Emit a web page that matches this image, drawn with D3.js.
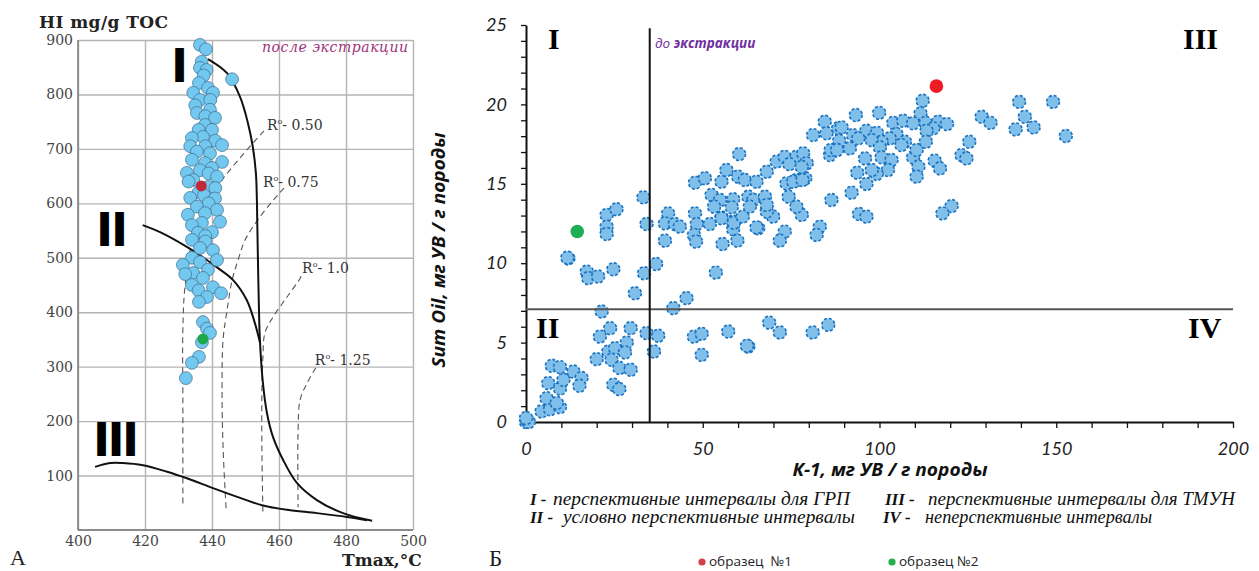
<!DOCTYPE html>
<html lang="ru">
<head>
<meta charset="UTF-8">
<title>HI – Tmax и Sum Oil – K-1</title>
<style>
  body { margin: 0; background: #fff; }
  svg { display: block; }
</style>
<script src="https://cdn.jsdelivr.net/npm/d3@7"></script>
</head>
<body>
<div id="chart"></div>
<script>
// ---------- panel A: HI vs Tmax ----------
const tmaxTicks = [400, 420, 440, 460, 480, 500];
const hiTicks = [100, 200, 300, 400, 500, 600, 700, 800, 900];

// [Tmax, HI]
const hiPoints = [
  [436.4,891],[438.2,883],[436.9,860],[436.4,849],[438.4,845],[437.5,835],[446,828],[436.1,821],
  [438.8,812],[434.4,803],[440.3,803],[436.4,790],[439.5,790],[435,780],[439.4,772],[435.5,766],
  [438,760],[440.9,757],[437.9,744],[436,735],[440,735],[437.3,722],[434,720],[441,715],
  [443,707],[433.5,705],[438,705],[435.5,695],[439.4,692],[434,680],[443,676],[437.9,674],
  [440,665],[436.4,661],[432.5,656],[439,655],[441.5,649],[434.4,643],[433,640],[438.8,630],
  [441,628],[436,620],[437.6,615],[433.5,610],[440.9,609],[439,600],[435.5,594],[441.5,588],
  [437.9,582],[432.8,579],[442.4,566],[437,564],[434,560],[440,547],[435.8,546],[438,540],
  [434,533],[438,530],[436.4,518],[440.3,514],[434,500],[441.5,496],[436.4,492],[431.3,487],
  [438.8,478],[434.4,472],[432,470],[437.3,463],[434,450],[440.3,446],[436,440],[442.7,435],
  [438.5,428],[436.1,419],[437.3,382],[438.5,370],[439.4,362],[437,345],[436.1,318],[434,307],
  [432.2,279]
];
const sample1Hi = [436.8, 632];
const sample2Hi = [437.3, 351];

// maturity boundaries (solid) and Ro isolines (dashed), [Tmax, HI]
const curveI = [
  [438.8,865],[444.5,839],[448.4,795],[450.7,748],[452.2,703],[453.1,656],[453.4,606],[453.5,569],
  [453.7,501],[454.0,410],[454.3,349],[455.2,270],[456.4,215],[458.2,171],[461.2,129],[465.4,86],
  [471.3,55],[479.1,31],[487.8,17]
];
const curveII = [
  [419.3,560],[424.5,547],[432.5,520],[437.5,500],[441.8,481],[446.3,459],[450.4,422],[452.8,380],[454.3,345]
];
const curveIII = [
  [405.1,116],[409.6,123],[413.4,123],[419.4,119],[426.6,107],[432.5,95],[440.3,77],[448.4,59],
  [455.2,45],[462.4,37],[471.3,31],[480.3,24],[486.3,18]
];
const iso050 = [[455.5,733],[441.5,630],[435,551],[432,450],[431.3,367],[431.3,239],[431.3,42]];
const iso075 = [[461.5,628],[460.3,620],[454.3,575],[449.9,533],[447.8,496],[446,459],[444.5,404],[443.3,349],[443,257],[443.3,152],[444.2,40]];
const iso100 = [[466.6,466],[466.3,462],[462.4,428],[458.2,391],[455.8,362],[455.2,318],[454.9,257],[454.9,147],[455.2,31]];
const iso125 = [[471,298],[468.4,270],[466.3,239],[465.7,184],[465.7,42]];
const isoNames = ["0.50", "0.75", "1.0", "1.25"];
const isoLabelAt = [[456.4,735], [455.2,630], [466.9,472], [470.7,303]];

// ---------- panel Б: Sum Oil vs K-1 ----------
const k1Labels = [0, 50, 100, 150, 200];
const oilLabels = [0, 5, 10, 15, 20, 25];
const k1Cut = 35;
const oilCut = 7.1;

// [K-1, Sum Oil]
const oilPoints = [
  [0,0],[0.4,0.1],[0.8,0],[0,0.25],
  [4.4,0.67],[6.8,0.8],[9.6,0.94],[5.8,1.5],[8.7,1.2],[6.3,2.45],[9.6,2.1],[10.6,2.66],[7.3,3.54],
  [9.6,3.46],[13.4,3.18],[15.7,2.77],[15.1,2.28],
  [12.0,10.3],[11.7,10.35],[17.2,9.47],[17.6,9.06],[20.4,9.16],[24.7,9.62],
  [22.8,13.04],[22.8,12.3],[22.8,11.84],[25.6,13.4],
  [21.4,6.96],[23.8,5.91],[20.9,5.38],[20.0,3.96],[23.3,4.44],[25.2,4.65],[24.2,3.92],[28.5,5.0],
  [28.0,4.38],[26.4,3.4],[29.6,3.29],[24.7,2.35],[26.4,2.07],[29.6,5.91],[30.8,8.11],[33.4,9.37],
  [34.1,12.47],[36.8,9.95],[34.1,5.6],[37.4,5.43],[36.2,4.44],
  [40.2,13.14],[39.3,12.51],[42.1,12.47],[43.5,12.3],[39.3,11.42],[41.7,7.17],[45.4,7.8],[47.5,5.38],
  [49.7,5.55],[49.7,4.23],
  [47.8,13.14],[48.3,12.47],[47.5,11.78],[48.1,11.36],[52.0,12.47],[55.3,12.89],[55.6,11.21],[53.7,9.41],
  [58.6,12.62],[58.6,12.14],[59.8,11.42],[57.2,5.7],[62.9,4.75],[62.5,4.8],[65.7,12.2],[68.8,6.26],
  [71.8,5.64],[73.2,11.99],[71.8,11.42],[69.9,12.93],[68.1,13.25],[81.1,5.64],[85.5,6.12],[83.1,12.3],
  [82.2,11.78],[78.0,13.04],
  [33.2,14.15],[47.8,15.07],[50.6,15.35],[52.5,14.3],[54.9,13.98],[55.3,15.13],[56.7,15.87],[58.6,14.03],
  [60.3,16.87],[60.0,15.45],[61.9,15.24],[62.9,14.19],[65.2,15.13],[64.3,13.98],[68.1,15.76],[67.6,14.19],
  [68.1,13.67],[70.9,16.4],[73.2,16.7],[73.7,15.03],[74.3,14.19],[76.5,16.7],[76.5,15.24],[78.4,16.92],
  [79.4,16.29],[79.0,15.35],[81.2,18.07],[84.5,18.91],[85.0,18.18],[86.0,16.81],[88.3,18.49],[86.4,13.98],
  [53.2,13.56],[55.3,12.83],[58.2,13.52],[58.8,12.55],[61.3,12.93],[63.3,13.56],[65.2,12.26],[74.5,16.24],
  [75.6,15.13],[76.5,13.56],[78.2,15.24],[78.0,16.06],
  [112.2,20.23],[111.6,19.43],[128.9,19.22],[131.4,18.84],[99.9,19.47],[93.3,19.33],[89.3,18.55],[92.5,18.07],
  [96.3,18.34],[99.3,18.21],[103.9,18.84],[106.7,18.97],[109.5,18.81],[113.1,18.84],[116.6,18.91],[119.1,18.76],
  [115.2,18.49],[113.3,18.34],[104.8,18.13],[107.2,17.65],[106.2,17.44],[102.9,17.86],[100.6,17.65],[97.8,17.75],
  [94.0,17.86],[91.6,17.23],[88.6,17.71],[86.2,17.13],[88.0,17.13],[95.9,16.6],[100.1,17.29],[100.6,16.67],
  [103.4,16.5],[102.4,15.87],[99.2,15.62],[97.8,15.87],[93.7,15.7],[96.3,14.99],[92.1,14.44],[109.5,16.67],
  [110.5,17.13],[111.0,16.08],[110.5,15.45],[113.1,17.65],[115.6,16.46],[117.1,15.97],[125.4,17.65],[123.2,16.81],
  [124.6,16.6],[120.4,13.6],[117.8,13.14],[94.2,13.1],[96.3,12.93],
  [139.5,20.16],[149.1,20.16],[141.1,19.22],[143.6,18.55],[138.5,18.43],[152.7,18.01]
];
const sample1Oil = [116.1, 21.15];
const sample2Oil = [14.5, 12.0];

const legendRows = [
  ["I -", "перспективные интервалы для ГРП", "III -", "перспективные интервалы для ТМУН"],
  ["II -", "условно перспективные интервалы", "IV -", "неперспективные интервалы"]
];
const sampleNames = ["образец  №1", "образец №2"];

// ------------------------------------------------
const svg = d3.select("#chart").append("svg")
  .attr("width", 1259).attr("height", 571)
  .style("background", "#fff");

const serif = "DejaVu Serif";

// ===== panel A =====
const xL = d3.scaleLinear().domain([400, 500]).range([78, 413]);
const yL = d3.scaleLinear().domain([0, 900]).range([530, 40]);
const gA = svg.append("g");

gA.append("g").attr("transform", "translate(78,0)")
  .call(d3.axisLeft(yL).tickValues(hiTicks).tickSize(-335).tickPadding(5))
  .call(g => g.select(".domain").remove())
  .call(g => g.selectAll("line").attr("stroke", "#b4b4b4").attr("stroke-width", 1.4))
  .call(g => g.selectAll("text").attr("font-family", serif).attr("font-size", 14).attr("fill", "#444"));

gA.append("g").attr("transform", "translate(0,530)")
  .call(d3.axisBottom(xL).tickValues(tmaxTicks).tickSize(-490).tickPadding(6))
  .call(g => g.select(".domain").remove())
  .call(g => g.selectAll("line").attr("stroke", "#b4b4b4").attr("stroke-width", 1.4))
  .call(g => g.selectAll("text").attr("font-family", serif).attr("font-size", 14).attr("fill", "#444"));

gA.append("line").attr("x1", xL(400)).attr("x2", xL(400)).attr("y1", yL(900)).attr("y2", yL(0))
  .attr("stroke", "#777").attr("stroke-width", 1.4);
gA.append("line").attr("x1", xL(400)).attr("x2", xL(500)).attr("y1", yL(0)).attr("y2", yL(0))
  .attr("stroke", "#666").attr("stroke-width", 1.6);

const lineL = d3.line().x(d => xL(d[0])).y(d => yL(d[1])).curve(d3.curveCatmullRom.alpha(0.5));

[iso050, iso075, iso100, iso125].forEach(iso => {
  gA.append("path").attr("d", lineL(iso)).attr("fill", "none")
    .attr("stroke", "#555").attr("stroke-width", 1.1).attr("stroke-dasharray", "6,4");
});
[curveI, curveII, curveIII].forEach(c => {
  gA.append("path").attr("d", lineL(c)).attr("fill", "none")
    .attr("stroke", "#111").attr("stroke-width", 2);
});

gA.selectAll("circle.hi").data(hiPoints).join("circle").attr("class", "hi")
  .attr("cx", d => xL(d[0])).attr("cy", d => yL(d[1])).attr("r", 6.4)
  .attr("fill", "#72c8ef").attr("stroke", "#3d6c8c").attr("stroke-width", 0.7);
gA.append("circle").attr("cx", xL(sample1Hi[0])).attr("cy", yL(sample1Hi[1])).attr("r", 5.5).attr("fill", "#c0283c");
gA.append("circle").attr("cx", xL(sample2Hi[0])).attr("cy", yL(sample2Hi[1])).attr("r", 5.5).attr("fill", "#1fa84a");

isoNames.forEach((n, i) => {
  const t = gA.append("text").attr("x", xL(isoLabelAt[i][0])).attr("y", yL(isoLabelAt[i][1]))
    .attr("font-family", serif).attr("font-size", 14).attr("fill", "#333");
  t.append("tspan").text("R");
  t.append("tspan").attr("font-size", 8).attr("dy", -6).text("o");
  t.append("tspan").attr("dy", 6).text("- " + n);
});

// roman group labels
const romanA = [["I", 171, 82, -2], ["II", 96, 246, -2], ["III", 93, 456, -2.6]];
romanA.forEach(r => {
  gA.append("text").attr("x", r[1]).attr("y", r[2]).text(r[0])
    .attr("font-family", "DejaVu Sans").attr("font-weight", "bold").attr("font-size", 46)
    .attr("letter-spacing", r[3]).attr("fill", "#000");
});

gA.append("text").attr("x", 262).attr("y", 52).text("после экстракции")
  .attr("font-family", serif).attr("font-style", "italic").attr("font-size", 14)
  .attr("textLength", 146).attr("fill", "#a1317c");
gA.append("text").attr("x", 39).attr("y", 28).text("HI mg/g TOC")
  .attr("font-family", serif).attr("font-weight", "bold").attr("font-size", 17)
  .attr("textLength", 129).attr("fill", "#222");
gA.append("text").attr("x", 342).attr("y", 566).text("Tmax,°C")
  .attr("font-family", serif).attr("font-weight", "bold").attr("font-size", 17).attr("fill", "#222");
gA.append("text").attr("x", 10).attr("y", 565).text("А")
  .attr("font-family", "Liberation Serif").attr("font-size", 22).attr("fill", "#222");

// ===== panel Б =====
const xR = d3.scaleLinear().domain([0, 200]).range([526, 1233]);
const yR = d3.scaleLinear().domain([0, 25]).range([422, 25]);
const gB = svg.append("g");
const tickFont = "Lato";

gB.append("g").attr("transform", "translate(0,422)")
  .call(d3.axisBottom(xR).tickValues(d3.range(0, 201, 10)).tickSize(6).tickSizeOuter(0).tickPadding(14)
    .tickFormat(d => k1Labels.includes(d) ? d : ""))
  .call(g => g.select(".domain").attr("stroke", "#111").attr("stroke-width", 2))
  .call(g => g.selectAll("line").attr("stroke", "#111").attr("stroke-width", 1.3))
  .call(g => g.selectAll("text").attr("font-family", tickFont).attr("font-style", "italic")
    .attr("font-size", 18).attr("fill", "#222"));

gB.append("g").attr("transform", "translate(526,0)")
  .call(d3.axisLeft(yR).tickValues(d3.range(0, 26, 1)).tickSize(5).tickSizeOuter(0).tickPadding(14)
    .tickFormat(d => oilLabels.includes(d) ? d : ""))
  .call(g => g.select(".domain").attr("stroke", "#111").attr("stroke-width", 2))
  .call(g => g.selectAll("line").attr("stroke", "#111").attr("stroke-width", 1.3))
  .call(g => g.selectAll("text").attr("font-family", tickFont).attr("font-style", "italic")
    .attr("font-size", 18).attr("fill", "#222"));

gB.selectAll("circle.oil").data(oilPoints).join("circle").attr("class", "oil")
  .attr("cx", d => xR(d[0])).attr("cy", d => yR(d[1])).attr("r", 6.4)
  .attr("fill", "#80bfea").attr("stroke", "#1a73c0").attr("stroke-width", 1.6)
  .attr("stroke-dasharray", "3,2");

gB.append("line").attr("x1", xR(0)).attr("x2", xR(200)).attr("y1", yR(oilCut)).attr("y2", yR(oilCut))
  .attr("stroke", "#555").attr("stroke-width", 2);
gB.append("line").attr("x1", xR(k1Cut)).attr("x2", xR(k1Cut)).attr("y1", yR(24.8)).attr("y2", yR(0))
  .attr("stroke", "#111").attr("stroke-width", 2);

gB.append("circle").attr("cx", xR(sample1Oil[0])).attr("cy", yR(sample1Oil[1])).attr("r", 6.8).attr("fill", "#ee1c25");
gB.append("circle").attr("cx", xR(sample2Oil[0])).attr("cy", yR(sample2Oil[1])).attr("r", 6.8).attr("fill", "#1fae55");

const romanB = [["I", 548, 49], ["III", 1183, 49], ["II", 536, 338], ["IV", 1188, 338]];
romanB.forEach(r => {
  gB.append("text").attr("x", r[1]).attr("y", r[2]).text(r[0])
    .attr("font-family", "Liberation Serif").attr("font-weight", "bold").attr("font-size", 30).attr("fill", "#000");
});

const ext = gB.append("text").attr("x", 655).attr("y", 48)
  .attr("font-family", "Open Sans").attr("font-style", "italic").attr("font-size", 13.5).attr("fill", "#7030a0");
ext.append("tspan").text("до ");
ext.append("tspan").attr("font-weight", "bold").text("экстракции");

gB.append("text").attr("transform", "translate(445,250) rotate(-90)").attr("text-anchor", "middle")
  .text("Sum Oil, мг УВ / г породы")
  .attr("font-family", "Open Sans").attr("font-style", "italic").attr("font-weight", "bold")
  .attr("font-size", 17.5).attr("textLength", 235).attr("lengthAdjust", "spacingAndGlyphs").attr("fill", "#111");
gB.append("text").attr("x", 890).attr("y", 476).attr("text-anchor", "middle")
  .text("К-1, мг УВ / г породы")
  .attr("font-family", "Open Sans").attr("font-style", "italic").attr("font-weight", "bold")
  .attr("font-size", 17).attr("textLength", 195).attr("lengthAdjust", "spacingAndGlyphs").attr("fill", "#111");

// legend of zones
const legX = [[530, 553, 850], [885, 928, 1235]];
const legX2 = [[530, 563, 855], [883, 925, 1152]];
legendRows.forEach((row, ri) => {
  const y = 505 + ri * 18;
  const cols = ri === 0 ? legX : legX2;
  [0, 1].forEach(c => {
    const pos = cols[c];
    gB.append("text").attr("x", pos[0]).attr("y", y).text(row[c * 2])
      .attr("font-family", "Liberation Serif").attr("font-style", "italic").attr("font-weight", "bold")
      .attr("font-size", 17).attr("fill", "#111");
    gB.append("text").attr("x", pos[1]).attr("y", y).text(row[c * 2 + 1])
      .attr("font-family", "Liberation Serif").attr("font-style", "italic")
      .attr("font-size", 18).attr("textLength", pos[2] - pos[1]).attr("lengthAdjust", "spacingAndGlyphs")
      .attr("fill", "#111");
  });
});

// sample legend
const sampleColors = ["#d0404a", "#22b04a"];
const sampleX = [702, 892];
sampleNames.forEach((n, i) => {
  gB.append("circle").attr("cx", sampleX[i]).attr("cy", 562).attr("r", 3.6).attr("fill", sampleColors[i]);
  gB.append("text").attr("x", sampleX[i] + 7).attr("y", 566).text(n).style("white-space", "pre")
    .attr("font-family", "Open Sans").attr("font-size", 13.5).attr("fill", "#222");
});

gB.append("text").attr("x", 489).attr("y", 566).text("Б")
  .attr("font-family", "Liberation Serif").attr("font-size", 23).attr("fill", "#222");
</script>
</body>
</html>
